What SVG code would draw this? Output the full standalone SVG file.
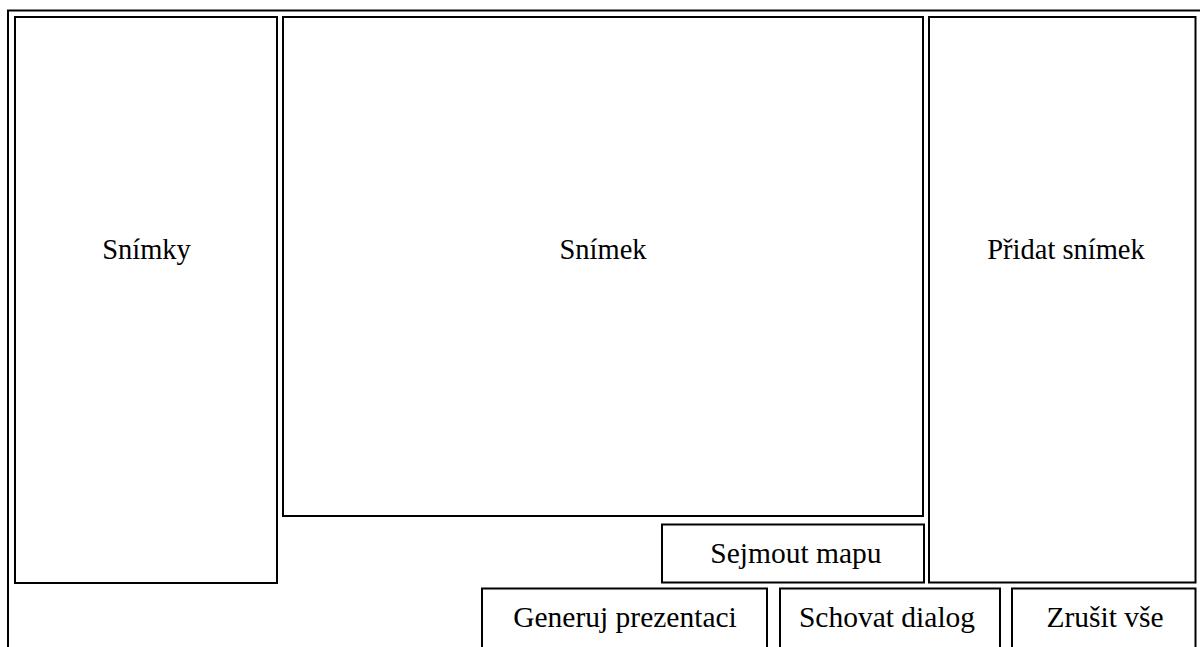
<svg xmlns="http://www.w3.org/2000/svg" width="1200" height="647" viewBox="0 0 1200 647">
<style>
.box{fill:#fff;stroke:#000;stroke-width:2}
.lbl{font-family:"Liberation Serif","Times New Roman",serif;font-size:28.5px;fill:#000;text-anchor:middle}
.btn{font-family:"Liberation Serif","Times New Roman",serif;font-size:29.5px;fill:#000;text-anchor:middle}
</style>
<rect x="0" y="0" width="1200" height="647" fill="#fff"/>
<g id="frame"><rect class="box" x="8" y="10.5" width="1210" height="660"/></g>
<g id="snimky"><rect class="box" x="15" y="17" width="262" height="566"/><text class="lbl" x="146.5" y="259">Snímky</text></g>
<g id="snimek"><rect class="box" x="283" y="17" width="640" height="499"/><text class="lbl" x="603" y="259">Snímek</text></g>
<g id="pridat"><rect class="box" x="929" y="17" width="266.5" height="565.5"/><text class="lbl" x="1066" y="259">Přidat snímek</text></g>
<g id="sejmout"><rect class="box" x="662" y="524.5" width="262" height="58"/><text class="btn" x="796" y="563">Sejmout mapu</text></g>
<g id="generuj"><rect class="box" x="482" y="588.5" width="285" height="80"/><text class="btn" x="625" y="627">Generuj prezentaci</text></g>
<g id="schovat"><rect class="box" x="780" y="588.5" width="220" height="80"/><text class="btn" x="887" y="627">Schovat dialog</text></g>
<g id="zrusit"><rect class="box" x="1012" y="588.5" width="183.5" height="80"/><text class="btn" x="1105" y="627">Zrušit vše</text></g>
<g id="connectors"></g>
</svg>
